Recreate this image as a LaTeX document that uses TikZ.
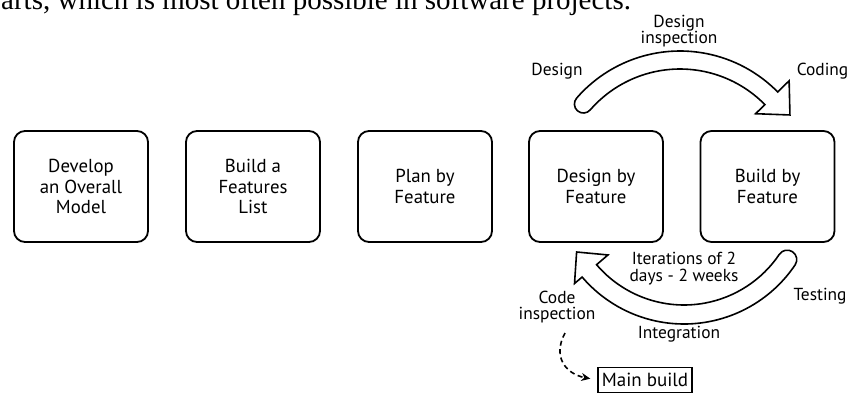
\documentclass[tikz,border=0pt]{standalone}
\usepackage{fontspec}
\setmainfont{PT Sans}
\newfontfamily\seriffont{Liberation Serif}
\usetikzlibrary{calc,arrows.meta}
\newcommand\lblfont{\fontsize{17.4}{16.5}\selectfont\lineskiplimit=-20pt\relax}
\newcommand\lblfonttop{\fontsize{17.4}{16.2}\selectfont\lineskiplimit=-20pt\relax}
\begin{document}
\begin{tikzpicture}[x=1pt,y=-1pt,
  stepbox/.style={draw, line width=1.8pt, rounded corners=11pt, minimum width=134pt, minimum height=111pt,
    align=center, inner sep=0pt, font=\fontsize{18.8}{20.5}\selectfont},
  lbl/.style={align=center, inner sep=0pt, font=\lblfont},
  arrowline/.style={draw, line width=1.6pt, fill=white},
  buildbox/.style={draw, line width=1.6pt, minimum width=94pt, minimum height=25pt, inner sep=0pt,
    font=\fontsize{19}{20}\selectfont}
]
\useasboundingbox (0,0) rectangle (850,392);
\node[anchor=base west, inner sep=0pt, font=\seriffont\fontsize{29}{30}\selectfont] (top) at (1,9) {arts, which is most often possible in software projects.};

\node[stepbox] (b1) at (81,186.5) {Develop\\an Overall\\Model};
\node[stepbox] (b2) at (253,186.5) {Build a\\Features\\List};
\node[stepbox] (b3) at (425,186.5) {Plan by\\Feature};
\node[stepbox] (b4) at (596,186.5) {Design by\\Feature};
\node[stepbox] (b5) at (767.5,186.5) {Build by\\Feature};

\coordinate (C1) at (680,188);
\coordinate (C2) at (684,190);

% top arrow
\draw[arrowline] ($(C1)+(-139:137)$) arc[start angle=-139, end angle=-44.5, radius=137]
  -- ($(C1)+(-44.5:153)$) -- ($(C1)+(-33.6:132)$) -- ($(C1)+(-44.5:106)$) -- ($(C1)+(-44.5:119)$)
  arc[start angle=-44.5, end angle=-139, radius=119]
  arc[start angle=41, end angle=221, radius=9] -- cycle;

% bottom arrow
\draw[arrowline] ($(C2)+(34:134)$) arc[start angle=34, end angle=139.5, radius=134]
  -- ($(C2)+(139.5:144)$) -- ($(C2)+(150:124)$) -- ($(C2)+(139.5:100)$) -- ($(C2)+(139.5:115)$)
  arc[start angle=139.5, end angle=34, radius=115]
  arc[start angle=214, end angle=394, radius=9.5] -- cycle;

\node[lbl, font=\lblfonttop] (di) at (679,31) {Design\\inspection};
\node[lbl] (dsg) at (557,71.5) {Design};
\node[lbl, anchor=east] (cod) at (848.5,71.5) {Coding};
\node[lbl] (it) at (684,268.5) {Iterations of 2\\days - 2 weeks};
\node[lbl] (ci) at (557,307) {Code\\inspection};
\node[lbl] (tst) at (820,296) {Testing};
\node[lbl] (int) at (679,334) {Integration};

\node[buildbox] (mb) at (645,380) {Main build};
\coordinate (dstart) at (565,333);
\draw[line width=1.6pt, dash pattern=on 5pt off 3.5pt, -{Stealth[length=9pt,width=8pt]}, shorten >=7pt]
  (dstart) .. controls (552,357) and (566,374) .. (mb.west);
\end{tikzpicture}
\end{document}
